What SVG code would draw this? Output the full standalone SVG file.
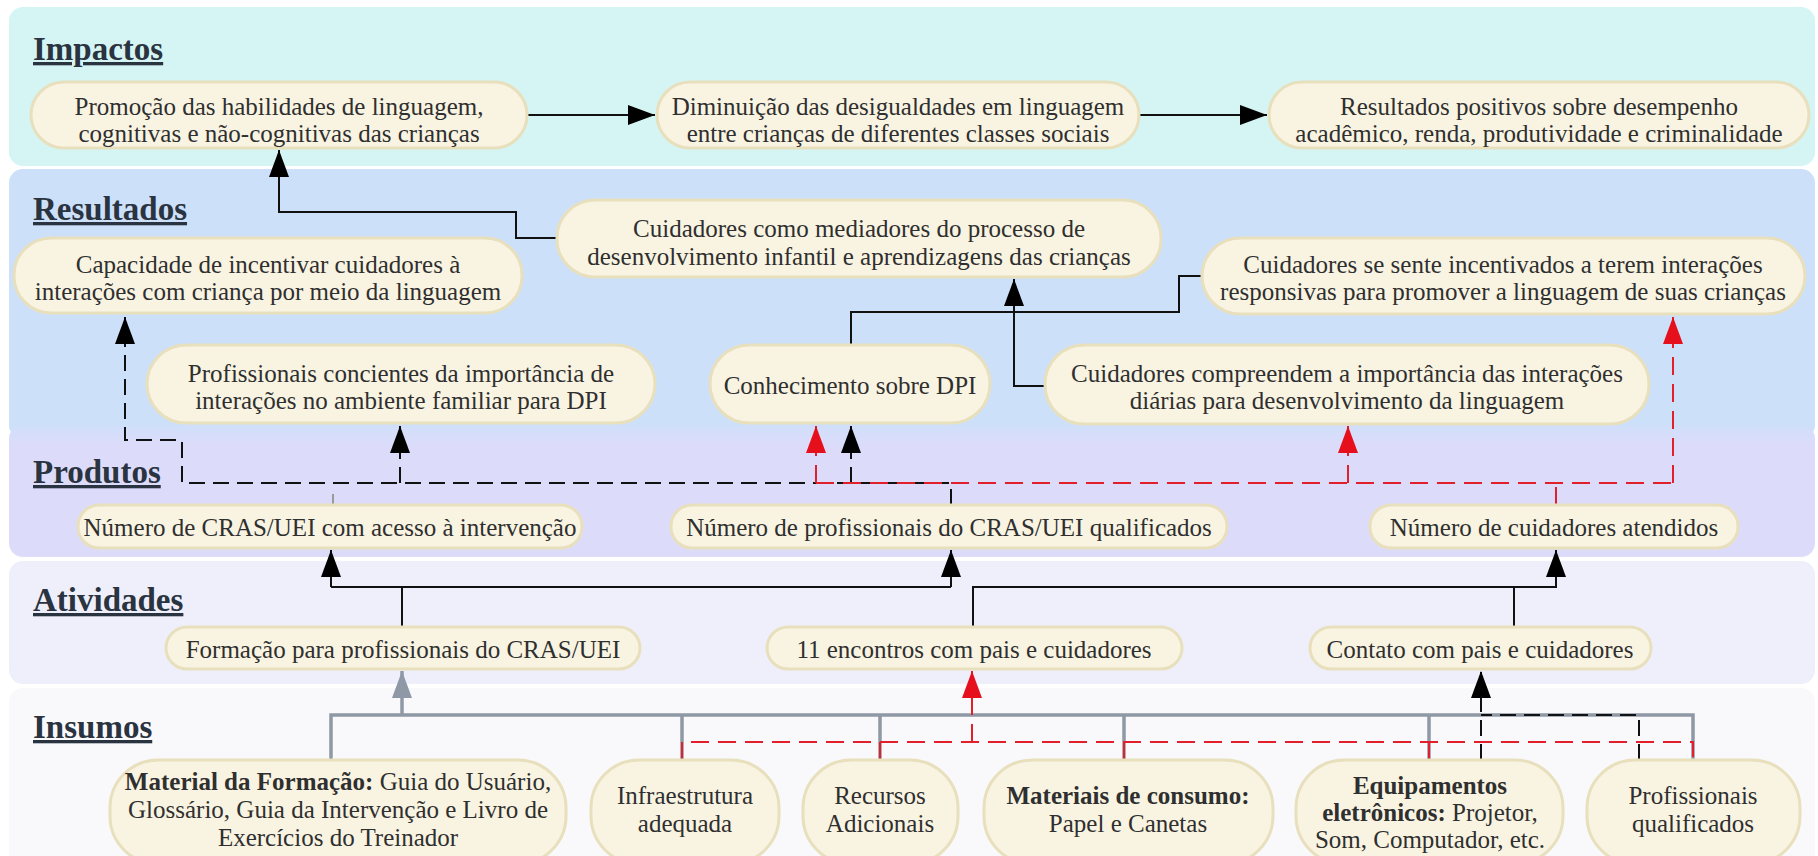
<svg xmlns="http://www.w3.org/2000/svg" width="1818" height="856" viewBox="0 0 1818 856">
<defs>
<style>
.lbl{font-family:"Liberation Serif",serif;font-size:33px;font-weight:bold;fill:#2a3340;text-decoration:underline;}
.t{font-family:"Liberation Serif",serif;font-size:25px;fill:#2f2f2f;text-anchor:middle;}
.b{font-weight:bold;}
.node{fill:#f9f4e2;stroke:#e8dfbd;stroke-width:3;}
.k{fill:none;stroke:#111;stroke-width:2;}
.kd{fill:none;stroke:#111;stroke-width:2;stroke-dasharray:16 8;}
.rd{fill:none;stroke:#e2202b;stroke-width:2;stroke-dasharray:18 9;}
.g{fill:none;stroke:#8f98a5;stroke-width:3.5;}
</style>
<linearGradient id="gp" x1="0" y1="0" x2="0" y2="1">
<stop offset="0" stop-color="#cfdffa"/>
<stop offset="0.15" stop-color="#dcdcfa"/>
<stop offset="1" stop-color="#dcdcfa"/>
</linearGradient>
<marker id="ak" markerUnits="userSpaceOnUse" markerWidth="27" markerHeight="20" viewBox="0 0 27 20" refX="27" refY="10" orient="auto"><path d="M0,0L27,10L0,20z" fill="#000"/></marker>
<marker id="ar" markerUnits="userSpaceOnUse" markerWidth="27" markerHeight="20" viewBox="0 0 27 20" refX="27" refY="10" orient="auto"><path d="M0,0L27,10L0,20z" fill="#e5101c"/></marker>
<marker id="ag" markerUnits="userSpaceOnUse" markerWidth="27" markerHeight="20" viewBox="0 0 27 20" refX="27" refY="10" orient="auto"><path d="M0,0L27,10L0,20z" fill="#8e98a6"/></marker>
</defs>
<rect width="1818" height="856" fill="#ffffff"/>
<g id="bands">
<rect x="9" y="7" width="1806" height="159" rx="14" fill="#d4f5f3"/>
<rect x="9" y="169" width="1806" height="270" rx="14" fill="#cde0fa"/>
<rect x="9" y="425" width="1806" height="132" rx="14" fill="url(#gp)"/>
<rect x="9" y="561" width="1806" height="123" rx="14" fill="#eeeffb"/>
<rect x="9" y="688" width="1806" height="180" rx="14" fill="#f9f9fb"/>
</g>
<g id="labels">
<text class="lbl" x="33" y="60">Impactos</text>
<text class="lbl" x="33" y="220">Resultados</text>
<text class="lbl" x="33" y="483">Produtos</text>
<text class="lbl" x="33" y="611">Atividades</text>
<text class="lbl" x="33" y="738">Insumos</text>
</g>
<g id="connectors">
<path class="k" d="M527,115H655" marker-end="url(#ak)"/>
<path class="k" d="M1139,115H1267" marker-end="url(#ak)"/>
<path class="k" d="M557,238H516V212H279V150" marker-end="url(#ak)"/>
<path class="k" d="M851,345V312H1179V276H1202"/>
<path class="k" d="M1045,386H1014V279" marker-end="url(#ak)"/>
<path class="kd" d="M951,505V483H182V440H125V317" marker-end="url(#ak)"/>
<path class="kd" d="M400,483V426" marker-end="url(#ak)"/>
<path class="kd" d="M851,483V426" marker-end="url(#ak)"/>
<path d="M333,494V504" stroke="#9a9a9a" stroke-width="2"/>
<path class="rd" d="M1556,505V483"/>
<path class="rd" d="M816,483H1673"/>
<path class="rd" d="M816,483V426" marker-end="url(#ar)"/>
<path class="rd" d="M1348,483V426" marker-end="url(#ar)"/>
<path class="rd" d="M1673,483V317" marker-end="url(#ar)"/>
<path class="k" d="M402,627V587"/>
<path class="k" d="M331,587H951"/>
<path class="k" d="M331,587V550" marker-end="url(#ak)"/>
<path class="k" d="M951,587V550" marker-end="url(#ak)"/>
<path class="k" d="M973,627V587H1556V550" marker-end="url(#ak)"/>
<path class="k" d="M1514,627V587"/>
<path class="g" d="M331,760V715H1693V760"/>
<path class="g" d="M682,715V760M880,715V760M1124,715V760M1429,715V760"/>
<path class="g" d="M402,715V671" marker-end="url(#ag)"/>
<path class="kd" d="M1639,760V715H1481"/>
<path class="kd" d="M1481,760V671" marker-end="url(#ak)"/>
<path class="rd" d="M682,760V742H1693V760"/>
<path class="rd" d="M880,742V760M1124,742V760M1429,742V760"/>
<path class="rd" d="M972,742V671" marker-end="url(#ar)"/>
</g>
<g id="n-impacto1"><rect class="node" x="31" y="82" width="496" height="66" rx="33"/>
<text class="t" x="279" y="115">Promoção das habilidades de linguagem,</text>
<text class="t" x="279" y="142">cognitivas e não-cognitivas das crianças</text></g>
<g id="n-impacto2"><rect class="node" x="657" y="82" width="482" height="66" rx="33"/>
<text class="t" x="898" y="115">Diminuição das desigualdades em linguagem</text>
<text class="t" x="898" y="142">entre crianças de diferentes classes sociais</text></g>
<g id="n-impacto3"><rect class="node" x="1269" y="82" width="540" height="66" rx="33"/>
<text class="t" x="1539" y="115">Resultados positivos sobre desempenho</text>
<text class="t" x="1539" y="142">acadêmico, renda, produtividade e criminalidade</text></g>
<g id="n-res-mediadores"><rect class="node" x="557" y="200" width="604" height="77" rx="38"/>
<text class="t" x="859" y="237">Cuidadores como mediadores do processo de</text>
<text class="t" x="859" y="265">desenvolvimento infantil e aprendizagens das crianças</text></g>
<g id="n-res-capacidade"><rect class="node" x="14" y="238" width="508" height="75" rx="37"/>
<text class="t" x="268" y="273">Capacidade de incentivar cuidadores à</text>
<text class="t" x="268" y="300">interações com criança por meio da linguagem</text></g>
<g id="n-res-incentivados"><rect class="node" x="1202" y="238" width="603" height="76" rx="38"/>
<text class="t" x="1503" y="273">Cuidadores se sente incentivados a terem interações</text>
<text class="t" x="1503" y="300">responsivas para promover a linguagem de suas crianças</text></g>
<g id="n-res-profissionais"><rect class="node" x="147" y="345" width="508" height="78" rx="39"/>
<text class="t" x="401" y="382">Profissionais concientes da importância de</text>
<text class="t" x="401" y="409">interações no ambiente familiar para DPI</text></g>
<g id="n-res-dpi"><rect class="node" x="710" y="345" width="280" height="78" rx="39"/>
<text class="t" x="850" y="394">Conhecimento sobre DPI</text></g>
<g id="n-res-compreendem"><rect class="node" x="1045" y="345" width="604" height="79" rx="39"/>
<text class="t" x="1347" y="382">Cuidadores compreendem a importância das interações</text>
<text class="t" x="1347" y="409">diárias para desenvolvimento da linguagem</text></g>
<g id="n-prod1"><rect class="node" x="78" y="505" width="504" height="43" rx="21"/>
<text class="t" x="330" y="536">Número de CRAS/UEI com acesso à intervenção</text></g>
<g id="n-prod2"><rect class="node" x="671" y="505" width="556" height="43" rx="21"/>
<text class="t" x="949" y="536">Número de profissionais do CRAS/UEI qualificados</text></g>
<g id="n-prod3"><rect class="node" x="1370" y="505" width="368" height="43" rx="21"/>
<text class="t" x="1554" y="536">Número de cuidadores atendidos</text></g>
<g id="n-ativ1"><rect class="node" x="166" y="627" width="474" height="42" rx="21"/>
<text class="t" x="403" y="658">Formação para profissionais do CRAS/UEI</text></g>
<g id="n-ativ2"><rect class="node" x="767" y="627" width="415" height="42" rx="21"/>
<text class="t" x="974" y="658">11 encontros com pais e cuidadores</text></g>
<g id="n-ativ3"><rect class="node" x="1310" y="627" width="341" height="42" rx="21"/>
<text class="t" x="1480" y="658">Contato com pais e cuidadores</text></g>
<g id="n-ins1"><rect class="node" x="110" y="760" width="456" height="104" rx="48"/>
<text class="t" x="338" y="790"><tspan class="b">Material da Formação:</tspan> Guia do Usuário,</text>
<text class="t" x="338" y="818">Glossário, Guia da Intervenção e Livro de</text>
<text class="t" x="338" y="846">Exercícios do Treinador</text></g>
<g id="n-ins2"><rect class="node" x="591" y="760" width="188" height="104" rx="48"/>
<text class="t" x="685" y="804">Infraestrutura</text>
<text class="t" x="685" y="832">adequada</text></g>
<g id="n-ins3"><rect class="node" x="803" y="760" width="155" height="104" rx="48"/>
<text class="t" x="880" y="804">Recursos</text>
<text class="t" x="880" y="832">Adicionais</text></g>
<g id="n-ins4"><rect class="node" x="984" y="760" width="289" height="104" rx="48"/>
<text class="t" x="1128" y="804"><tspan class="b">Materiais de consumo:</tspan></text>
<text class="t" x="1128" y="832">Papel e Canetas</text></g>
<g id="n-ins5"><rect class="node" x="1296" y="760" width="267" height="104" rx="48"/>
<text class="t" x="1430" y="794"><tspan class="b">Equipamentos</tspan></text>
<text class="t" x="1430" y="821"><tspan class="b">eletrônicos:</tspan> Projetor,</text>
<text class="t" x="1430" y="848">Som, Computador, etc.</text></g>
<g id="n-ins6"><rect class="node" x="1587" y="760" width="213" height="104" rx="48"/>
<text class="t" x="1693" y="804">Profissionais</text>
<text class="t" x="1693" y="832">qualificados</text></g>
</svg>
